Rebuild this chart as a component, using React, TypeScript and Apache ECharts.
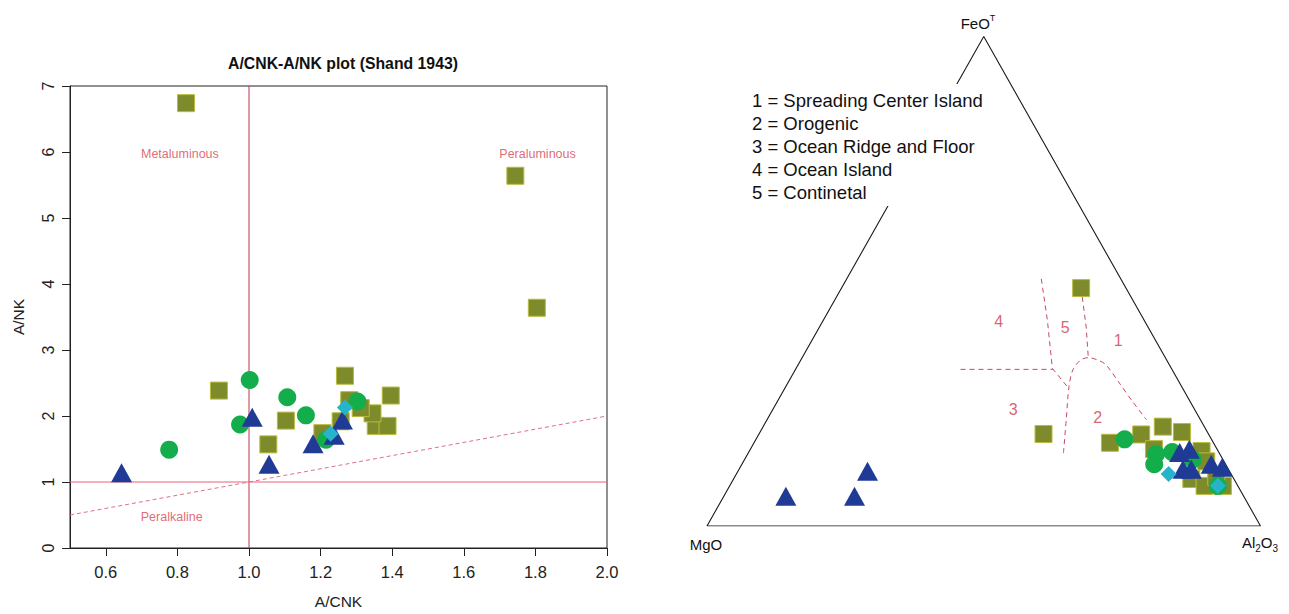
import { useEffect, useRef } from "react";
import * as echarts from "echarts";

// ---------- Left panel: A/CNK vs A/NK ----------
const xTicks = [0.6, 0.8, 1.0, 1.2, 1.4, 1.6, 1.8, 2.0];
const squaresL = [
  [0.824, 6.74], [1.744, 5.64], [1.804, 3.64], [0.916, 2.385], [1.103, 1.93],
  [1.054, 1.57], [1.268, 2.61], [1.396, 2.31], [1.354, 1.85], [1.387, 1.85],
  [1.345, 2.04], [1.312, 2.12], [1.28, 2.24], [1.256, 1.92], [1.205, 1.74],
];
const circlesL = [
  [0.777, 1.49], [1.002, 2.545], [0.975, 1.87], [1.107, 2.285], [1.159, 2.01],
  [1.303, 2.22], [1.215, 1.64],
];
const trianglesL = [
  [0.644, 1.14], [1.009, 1.98], [1.056, 1.27], [1.179, 1.58], [1.261, 1.94], [1.238, 1.71],
];
const diamondsL = [[1.268, 2.13], [1.228, 1.73]];
const refVertical = [[1.0, 0], [1.0, 7]];
const refHorizontal = [[0.5, 1], [2.0, 1]];
const refDiagonal = [[0.5, 0.5], [2.0, 2.0]];
const regionLabelsL = [
  [0.807, 5.97, "Metaluminous"],
  [1.806, 5.97, "Peraluminous"],
  [0.784, 0.47, "Peralkaline"],
];

// ---------- Right panel: ternary MgO - FeOT - Al2O3 (values as [MgO, FeOT, Al2O3]) ----------
const ternVertices = [[100, 0, 0], [0, 100, 0], [0, 0, 100], [100, 0, 0]];
const ternSquares = [
  [8.1, 48.6, 43.3], [29.8, 18.8, 51.4], [18.7, 17.0, 64.3], [12.2, 18.7, 69.1],
  [7.5, 20.3, 72.2], [4.6, 19.2, 76.2], [11.4, 15.7, 72.9], [3.0, 15.3, 81.7],
  [7.7, 9.6, 82.7], [6.0, 8.2, 85.8], [2.7, 8.2, 89.1], [3.2, 13.2, 83.6], [3.0, 10.0, 87.0],
];
const ternCircles = [
  [15.7, 17.7, 66.6], [11.5, 14.7, 73.8], [12.9, 12.6, 74.5], [8.4, 15.1, 76.5],
  [5.4, 13.6, 81.0], [3.6, 8.2, 88.2],
];
const ternTriangles = [
  [82.7, 6.1, 11.2], [70.3, 6.1, 23.6], [65.4, 11.2, 23.4], [7.1, 15.0, 77.9],
  [5.0, 15.7, 79.3], [8.2, 11.6, 80.2], [6.7, 11.6, 81.7], [2.6, 12.6, 84.8], [0.9, 12.0, 87.1],
];
const ternDiamonds = [[11.3, 10.6, 78.1], [3.6, 8.2, 88.2]];
const boundary43 = [[38.2, 32.0, 29.8], [21.5, 32.0, 46.5]];
const boundary45 = [[14.35, 50.5, 35.15], [17.5, 42.0, 40.5], [21.5, 32.2, 46.3], [20.7, 28.6, 50.7]];
const boundary51 = [[8.8, 46.8, 44.4], [11.15, 40.7, 48.15], [14.0, 34.2, 51.8]];
const boundaryArch = [
  [28.15, 14.9, 56.95], [24.25, 21.7, 54.05], [20.35, 28.5, 51.15], [17.95, 31.9, 50.15],
  [15.55, 33.9, 50.55], [13.9, 34.4, 51.7], [12.45, 33.9, 53.65], [11.45, 32.9, 55.55],
  [10.9, 29.2, 59.9], [10.4, 25.4, 64.2], [9.75, 21.7, 68.55],
];
const regionNumbers = [
  [26.4, 41.8, 31.8, "4"], [15.05, 40.5, 44.45, "5"], [6.8, 37.8, 55.4, "1"],
  [32.75, 23.9, 43.35, "3"], [18.3, 22.2, 59.5, "2"],
];
const legendLines = [
  "1 = Spreading Center Island",
  "2 = Orogenic",
  "3 = Ocean Ridge and Floor",
  "4 = Ocean Island",
  "5 = Continetal",
];

const tern = (p: any[]) => {
  const s = p[0] + p[1] + p[2];
  return [(p[2] + p[1] / 2) / s, p[1] / s];
};

const FONT = "'Liberation Sans', Arial, Helvetica, sans-serif";
const C_SQ = "#7e8b2b";
const C_SQB = "#b9bb3c";
const C_CI = "#14ad4c";
const C_TR = "#1f3b96";
const C_DI = "#27b3c9";

export default function App() {
  const ref = useRef<HTMLDivElement>(null);
  useEffect(() => {
    const chart = echarts.init(ref.current!, null, { renderer: "svg" });
    const sq = (gi: number, data: any[]) => ({
      type: "scatter", xAxisIndex: gi, yAxisIndex: gi, data, symbol: "rect", symbolSize: 17,
      itemStyle: { color: C_SQ, borderColor: C_SQB, borderWidth: 1, opacity: 1 }, silent: true, z: 3,
    });
    const ci = (gi: number, data: any[]) => ({
      type: "scatter", xAxisIndex: gi, yAxisIndex: gi, data, symbol: "circle", symbolSize: 18,
      itemStyle: { color: C_CI, opacity: 1 }, silent: true, z: 4,
    });
    const tr = (gi: number, data: any[]) => ({
      type: "scatter", xAxisIndex: gi, yAxisIndex: gi, data, symbol: "triangle", symbolSize: [21, 19],
      itemStyle: { color: C_TR, opacity: 1 }, silent: true, z: 5,
    });
    const di = (gi: number, data: any[]) => ({
      type: "scatter", xAxisIndex: gi, yAxisIndex: gi, data, symbol: "diamond", symbolSize: 16,
      itemStyle: { color: C_DI, opacity: 1 }, silent: true, z: 6,
    });
    const ln = (gi: number, data: any[], color: string, type: any = "solid", width = 1) => ({
      type: "line", xAxisIndex: gi, yAxisIndex: gi, data, symbol: "none", silent: true, z: 2,
      lineStyle: { color, width, type }, animation: false,
    });

    const option: any = {
      animation: false,
      textStyle: { fontFamily: FONT },
      title: {
        text: "A/CNK-A/NK plot (Shand 1943)",
        left: 338, top: 50, textAlign: "center",
        textStyle: { fontFamily: FONT, fontSize: 15.8, fontWeight: "bold", color: "#111" },
      },
      grid: [
        { left: 70, top: 86, width: 537, height: 465, show: true, borderColor: "#222", borderWidth: 1, backgroundColor: "transparent" },
        { left: 707, top: 36.5, width: 553.5, height: 489.5, show: false },
      ],
      xAxis: [
        {
          type: "value", gridIndex: 0, min: 0.5, max: 2.0,
          axisLine: { show: true, lineStyle: { color: "#222" } },
          axisTick: { show: true, length: 8, customValues: xTicks, lineStyle: { color: "#222" } },
          axisLabel: { customValues: xTicks, formatter: (v: number) => v.toFixed(1), fontSize: 16.5, color: "#222", margin: 15, fontFamily: FONT },
          splitLine: { show: false },
          name: "A/CNK", nameLocation: "middle", nameGap: 45,
          nameTextStyle: { fontSize: 15.5, color: "#222", fontFamily: FONT },
        },
        { type: "value", gridIndex: 1, min: 0, max: 1, show: false },
      ],
      yAxis: [
        {
          type: "value", gridIndex: 0, min: 0, max: 7, interval: 1,
          axisLine: { show: true, lineStyle: { color: "#222" } },
          axisTick: { show: true, length: 8, lineStyle: { color: "#222" } },
          axisLabel: { rotate: 90, fontSize: 16, color: "#222", margin: 14, fontFamily: FONT },
          splitLine: { show: false },
          name: "A/NK", nameLocation: "middle", nameGap: 44, nameRotate: 90,
          nameTextStyle: { fontSize: 15.5, color: "#222", fontFamily: FONT },
        },
        { type: "value", gridIndex: 1, min: 0, max: 1, show: false },
      ],
      series: [
        // left panel
        ln(0, refVertical, "#b8374f"),
        ln(0, refHorizontal, "#e5637a"),
        ln(0, refDiagonal, "#e07086", [4, 3]),
        {
          type: "scatter", xAxisIndex: 0, yAxisIndex: 0, data: regionLabelsL, symbolSize: 0, silent: true,
          label: { show: true, position: "inside", formatter: (p: any) => p.data[2], color: "#d9434f", fontSize: 12.5, fontFamily: FONT },
        },
        sq(0, squaresL),
        ci(0, circlesL),
        tr(0, trianglesL),
        di(0, diamondsL),
        // right panel
        ln(1, ternVertices.map(tern), "#1a1a1a", "solid", 1.1),
        ln(1, boundary43.map(tern), "#c9485f", [5, 4]),
        ln(1, boundary45.map(tern), "#c9485f", [5, 4]),
        ln(1, boundary51.map(tern), "#c9485f", [5, 4]),
        { ...ln(1, boundaryArch.map(tern), "#c9485f", [5, 4]), smooth: 0.3 },
        {
          type: "scatter", xAxisIndex: 1, yAxisIndex: 1, symbolSize: 0, silent: true,
          data: regionNumbers.map((r) => [...tern(r), r[3]]),
          label: { show: true, position: "inside", formatter: (p: any) => p.data[2], color: "#cc3a4c", fontSize: 16, fontFamily: FONT },
        },
        sq(1, ternSquares.map(tern)),
        ci(1, ternCircles.map(tern)),
        tr(1, ternTriangles.map(tern)),
        di(1, ternDiamonds.map(tern)),
      ],
      graphic: [
        { type: "rect", z: 100, shape: { x: 745, y: 84, width: 252, height: 122 }, style: { fill: "#ffffff" } },
        ...legendLines.map((t, i) => ({
          type: "text", z: 101, x: 752, y: 100 + i * 23,
          style: { text: t, font: `18.5px ${FONT}`, fill: "#111", verticalAlign: "middle", align: "left" },
        })),
        {
          type: "text", z: 101, x: 978, y: 22,
          style: {
            text: "{a|FeO}{s|T}", align: "center", verticalAlign: "middle", fill: "#111",
            rich: { a: { fontSize: 15, fontFamily: FONT, lineHeight: 18, verticalAlign: "bottom" }, s: { fontSize: 9, fontFamily: FONT, lineHeight: 12, verticalAlign: "top" } },
          },
        },
        {
          type: "text", z: 101, x: 706, y: 544,
          style: { text: "MgO", font: `15px ${FONT}`, fill: "#111", align: "center", verticalAlign: "middle" },
        },
        {
          type: "text", z: 101, x: 1260, y: 544,
          style: {
            text: "{a|Al}{s|2}{a|O}{s|3}", align: "center", verticalAlign: "middle", fill: "#111",
            rich: { a: { fontSize: 15, fontFamily: FONT, lineHeight: 18, verticalAlign: "top" }, s: { fontSize: 10, fontFamily: FONT, lineHeight: 10, verticalAlign: "bottom" } },
          },
        },
      ],
    };
    chart.setOption(option);
    return () => chart.dispose();
  }, []);
  return <div ref={ref} style={{ position: "absolute", left: 0, top: 0, width: 1289, height: 614, background: "#fff" }} />;
}
